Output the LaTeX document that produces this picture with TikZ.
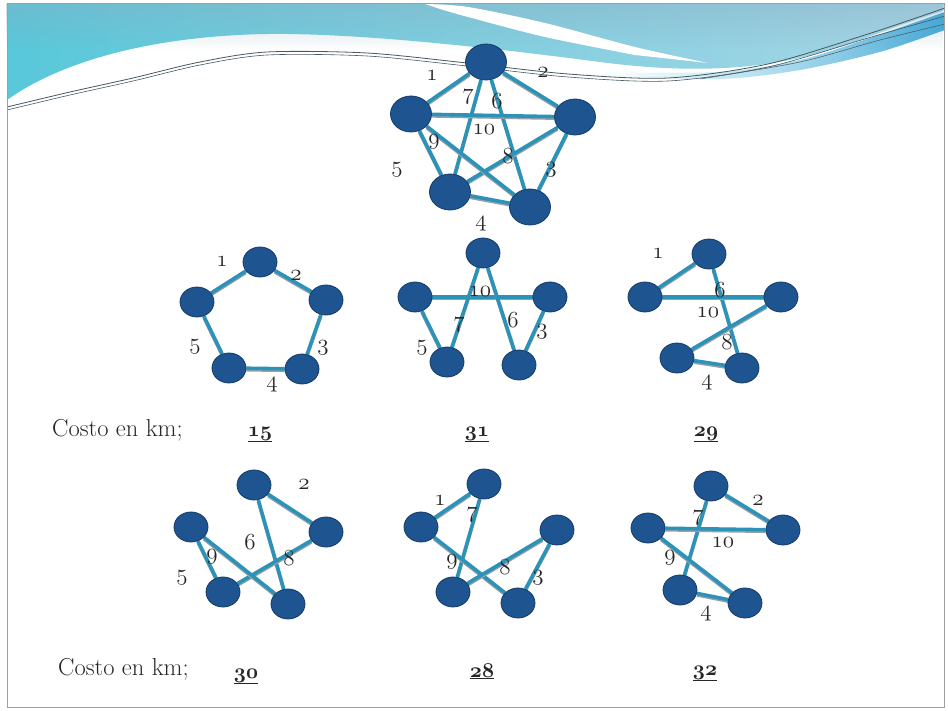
\RequirePackage{fix-cm}
\documentclass[tikz,border=0pt]{standalone}
\usetikzlibrary{shapes.geometric,fadings}
\pgfdeclarelayer{deco}
\pgfdeclarelayer{edges}
\pgfsetlayers{deco,edges,main}

\definecolor{nodeblue}{RGB}{30,84,144}
\definecolor{nodeedge}{RGB}{20,58,104}
\definecolor{linkteal}{RGB}{45,146,184}
\definecolor{linkshade}{RGB}{150,160,166}
\definecolor{bandleft}{RGB}{88,200,218}
\definecolor{bandmid}{RGB}{160,198,214}
\definecolor{bandright}{RGB}{168,214,230}
\definecolor{bandtop}{RGB}{135,172,192}
\definecolor{ribbonleft}{RGB}{120,205,228}
\definecolor{ribbonright}{RGB}{70,168,214}
\definecolor{swline}{RGB}{70,88,96}

% old-style figures from the Computer Modern math italic fonts
\newcommand\osnum[1]{{\usefont{OML}{cmm}{m}{it}#1}}
\newcommand\osbold[1]{{\usefont{OML}{cmm}{b}{it}#1}}

\tikzset{
  vtx/.style={ellipse, fill=nodeblue, draw=nodeedge, line width=0.8pt,
              minimum width=34pt, minimum height=30pt, inner sep=0pt},
  bigvtx/.style={vtx, minimum width=41pt, minimum height=36pt},
  wt/.style={font=\fontsize{23}{26}\selectfont, inner sep=0pt, text=black!85},
  total/.style={font=\fontsize{21}{25}\selectfont, inner sep=0pt, anchor=base, text=black!85},
  costlabel/.style={font=\fontsize{24.5}{28}\selectfont, inner sep=0pt, anchor=base west, text=black!85},
  link/.style={linkteal, line width=3.6pt,
               preaction={draw=linkshade, line width=3pt, transform canvas={yshift=-1.8pt}}},
  wave/.style={swline, line width=0.8pt},
}

\begin{document}
\begin{tikzpicture}[x=1pt, y=-1pt]
\useasboundingbox (0,0) rectangle (948,711);

% ---------- slide background and header waves ----------
\begin{pgfonlayer}{deco}
  \fill[white] (0,0) rectangle (948,711);
  % coloured header band
  \shade[left color=bandleft, middle color=bandmid, right color=bandright]
    (7,4) -- (945,4) -- (945,10)
    .. controls (930,15) and (900,25) .. (860,40)
    .. controls (780,70) and (700,75) .. (600,62)
    .. controls (470,45) and (350,33) .. (267,34)
    .. controls (150,36) and (60,62) .. (7,100) -- cycle;
  \fill[bandtop, path fading=south, opacity=0.4]
    (7,4) rectangle (945,50);
  % white streak across the band
  \fill[white] plot[smooth] coordinates {(425,4) (468,7) (545,23) (635,47) (708,63)}
    -- plot[smooth] coordinates {(635,55) (545,37) (468,17) (440,9)} -- cycle;
  % blue ribbon under the lines on the right, fading in from the left
  \shade[left color=ribbonleft, right color=ribbonright, path fading=west]
    plot[smooth] coordinates {(600,72) (720,72) (800,60) (870,38) (945,12)}
    -- plot[smooth] coordinates {(945,30) (880,52) (800,70) (720,79) (600,76)} -- cycle;
  % thin sweeping lines
  \draw[wave] plot[smooth] coordinates {(7,107) (70,92) (133,78) (200,62) (267,52) (367,53)
      (467,63) (568,74) (668,78) (768,64) (868,34) (945,8)};
  \draw[wave, line width=0.6pt] plot[smooth] coordinates {(7,110) (70,95) (133,81) (200,65) (267,55)
      (367,56) (467,66) (568,77) (668,81) (768,67) (868,38) (945,16)};
  \draw[wave, line width=0.5pt] plot[smooth] coordinates {(700,79) (800,62) (880,40) (945,24)};
  % slide frame
  \draw[gray!75, line width=1pt] (7,4) rectangle (944,707);
\end{pgfonlayer}

% ---------- complete graph K5 ----------
\node[bigvtx] (a1) at (486,62) {};
\node[bigvtx] (a2) at (575,117) {};
\node[bigvtx] (a3) at (530,207) {};
\node[bigvtx] (a4) at (450,192) {};
\node[bigvtx] (a5) at (411,114) {};
\begin{pgfonlayer}{edges}
  \draw[link] (a1) -- (a5);
  \draw[link] (a1) -- (a2);
  \draw[link] (a2) -- (a3);
  \draw[link] (a3) -- (a4);
  \draw[link] (a4) -- (a5);
  \draw[link] (a1) -- (a3);
  \draw[link] (a1) -- (a4);
  \draw[link] (a2) -- (a4);
  \draw[link] (a5) -- (a3);
  \draw[link] (a5) -- (a2);
\end{pgfonlayer}
\node[wt] (wa1) at (432,76) {\osnum{1}};
\node[wt] (wa2) at (543,73) {\osnum{2}};
\node[wt] (wa7) at (468,97) {\osnum{7}};
\node[wt] (wa6) at (497,101) {\osnum{6}};
\node[wt] (wa10) at (484,130) {\osnum{10}};
\node[wt] (wa9) at (434,142) {\osnum{9}};
\node[wt] (wa8) at (508,156) {\osnum{8}};
\node[wt] (wa5) at (397,170) {\osnum{5}};
\node[wt] (wa3) at (551,170) {\osnum{3}};
\node[wt] (wa4) at (481,224) {\osnum{4}};

% ---------- tour: 15 ----------
\node[vtx] (b1) at (260,262) {};
\node[vtx] (b2) at (326,300) {};
\node[vtx] (b3) at (302,369) {};
\node[vtx] (b4) at (229,368) {};
\node[vtx] (b5) at (197,302) {};
\begin{pgfonlayer}{edges}
  \draw[link] (b1) -- (b5);
  \draw[link] (b1) -- (b2);
  \draw[link] (b2) -- (b3);
  \draw[link] (b3) -- (b4);
  \draw[link] (b4) -- (b5);
\end{pgfonlayer}
\node[wt] (wb1) at (222,262) {\osnum{1}};
\node[wt] (wb2) at (296,276) {\osnum{2}};
\node[wt] (wb3) at (323,348) {\osnum{3}};
\node[wt] (wb4) at (272,385) {\osnum{4}};
\node[wt] (wb5) at (195,347) {\osnum{5}};

% ---------- tour: 31 ----------
\node[vtx] (c1) at (483,253) {};
\node[vtx] (c2) at (550,297) {};
\node[vtx] (c3) at (519,365) {};
\node[vtx] (c4) at (447,362) {};
\node[vtx] (c5) at (415,297) {};
\begin{pgfonlayer}{edges}
  \draw[link] (c5) -- (c2);
  \draw[link] (c1) -- (c4);
  \draw[link] (c1) -- (c3);
  \draw[link] (c2) -- (c3);
  \draw[link] (c5) -- (c4);
\end{pgfonlayer}
\node[wt] (wc10) at (480,292) {\osnum{10}};
\node[wt] (wc7) at (459,325) {\osnum{7}};
\node[wt] (wc6) at (513,320) {\osnum{6}};
\node[wt] (wc3) at (542,332) {\osnum{3}};
\node[wt] (wc5) at (422,348) {\osnum{5}};

% ---------- tour: 29 ----------
\node[vtx] (d1) at (709,254) {};
\node[vtx] (d2) at (781,297) {};
\node[vtx] (d3) at (742,368) {};
\node[vtx] (d4) at (677,358) {};
\node[vtx] (d5) at (645,297) {};
\begin{pgfonlayer}{edges}
  \draw[link] (d1) -- (d5);
  \draw[link] (d1) -- (d3);
  \draw[link] (d5) -- (d2);
  \draw[link] (d2) -- (d4);
  \draw[link] (d4) -- (d3);
\end{pgfonlayer}
\node[wt] (wd1) at (658,254) {\osnum{1}};
\node[wt] (wd6) at (720,290) {\osnum{6}};
\node[wt] (wd10) at (708,313) {\osnum{10}};
\node[wt] (wd8) at (727,342) {\osnum{8}};
\node[wt] (wd4) at (707,383) {\osnum{4}};

% ---------- tour: 30 ----------
\node[vtx] (e1) at (254,485) {};
\node[vtx] (e2) at (326,532) {};
\node[vtx] (e3) at (288,604) {};
\node[vtx] (e4) at (223,592) {};
\node[vtx] (e5) at (191,527) {};
\begin{pgfonlayer}{edges}
  \draw[link] (e1) -- (e2);
  \draw[link] (e1) -- (e3);
  \draw[link] (e2) -- (e4);
  \draw[link] (e5) -- (e3);
  \draw[link] (e5) -- (e4);
\end{pgfonlayer}
\node[wt] (we2) at (304,485) {\osnum{2}};
\node[wt] (we6) at (250,542) {\osnum{6}};
\node[wt] (we8) at (289,558) {\osnum{8}};
\node[wt] (we9) at (212,557) {\osnum{9}};
\node[wt] (we5) at (182,578) {\osnum{5}};

% ---------- tour: 28 ----------
\node[vtx] (f1) at (484,484) {};
\node[vtx] (f2) at (557,530) {};
\node[vtx] (f3) at (518,603) {};
\node[vtx] (f4) at (453,592) {};
\node[vtx] (f5) at (421,527) {};
\begin{pgfonlayer}{edges}
  \draw[link] (f1) -- (f5);
  \draw[link] (f1) -- (f4);
  \draw[link] (f5) -- (f3);
  \draw[link] (f2) -- (f4);
  \draw[link] (f2) -- (f3);
\end{pgfonlayer}
\node[wt] (wf1) at (440,501) {\osnum{1}};
\node[wt] (wf7) at (472,515) {\osnum{7}};
\node[wt] (wf9) at (452,562) {\osnum{9}};
\node[wt] (wf8) at (505,567) {\osnum{8}};
\node[wt] (wf3) at (538,578) {\osnum{3}};

% ---------- tour: 32 ----------
\node[vtx] (g1) at (711,486) {};
\node[vtx] (g2) at (783,530) {};
\node[vtx] (g3) at (745,603) {};
\node[vtx] (g4) at (680,590) {};
\node[vtx] (g5) at (648,528) {};
\begin{pgfonlayer}{edges}
  \draw[link] (g1) -- (g2);
  \draw[link] (g1) -- (g4);
  \draw[link] (g5) -- (g2);
  \draw[link] (g5) -- (g3);
  \draw[link] (g4) -- (g3);
\end{pgfonlayer}
\node[wt] (wg2) at (758,501) {\osnum{2}};
\node[wt] (wg7) at (698,518) {\osnum{7}};
\node[wt] (wg10) at (723,543) {\osnum{10}};
\node[wt] (wg9) at (670,558) {\osnum{9}};
\node[wt] (wg4) at (706,614) {\osnum{4}};

% ---------- costs ----------
\node[costlabel] (cost1) at (52,436) {Costo en km;};
\node[total] (t15) at (260,436) {\underline{\osbold{15}}};
\node[total] (t31) at (477,436) {\underline{\osbold{31}}};
\node[total] (t29) at (706,436) {\underline{\osbold{29}}};

\node[costlabel] (cost2) at (58,675) {Costo en km;};
\node[total] (t30) at (246,678) {\underline{\osbold{30}}};
\node[total] (t28) at (482,677) {\underline{\osbold{28}}};
\node[total] (t32) at (705,675) {\underline{\osbold{32}}};
\end{tikzpicture}
\end{document}
